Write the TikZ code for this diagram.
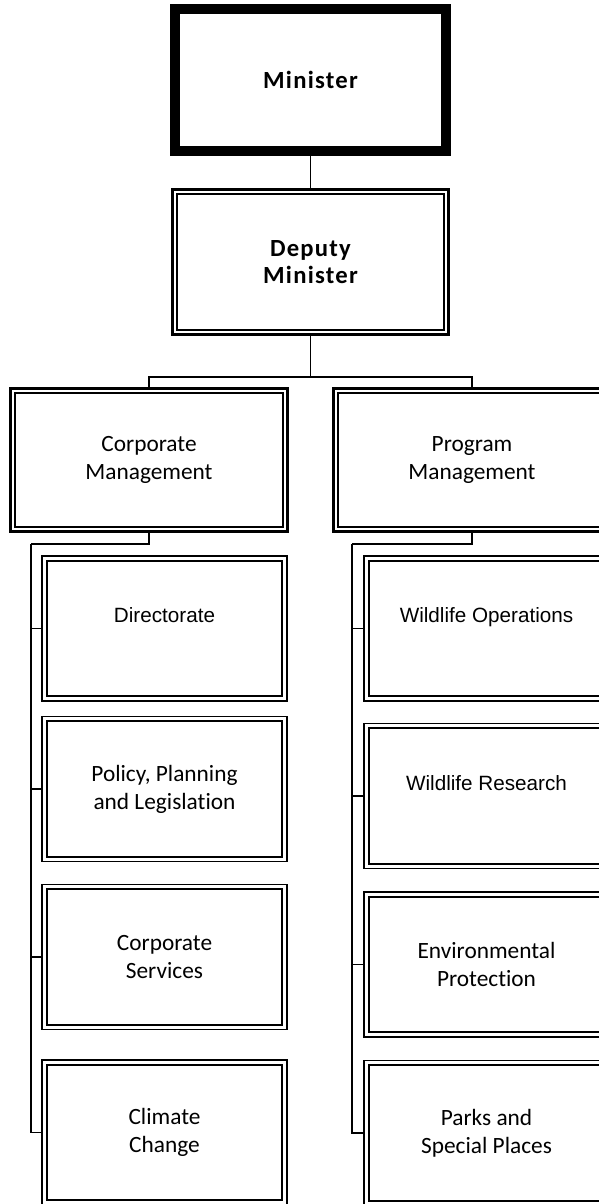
\documentclass[tikz,border=0pt]{standalone}
\usepackage{fontspec}
\setmainfont[Ligatures=NoCommon]{Carlito}
\newfontfamily\calbold[Ligatures=NoCommon,LetterSpace=5]{Carlito}
\newfontfamily\arialf[Ligatures=NoCommon]{Liberation Sans}
\tikzset{
  box/.style 2 args={rectangle, draw=black, minimum width=#1*0.75pt, minimum height=#2*0.75pt, inner sep=0pt, align=center},
  calib/.style={font=\fontsize{17.5}{21}\selectfont},
  calibb/.style={font=\calbold\fontsize{18.5}{20.5}\selectfont\bfseries},
  arial/.style={font=\arialf\fontsize{15.5}{20}\selectfont},
  topbox/.style={box={271}{142}, line width=7.5pt, calibb},
  midbox/.style={box={275.5}{144.5}, line width=2.6pt},
  divbox/.style={box={276.5}{142.5}, line width=2.6pt, calib},
  subbox/.style={box={245}{145}, line width=1.1pt},
  conn/.style={draw=black, line width=1.1pt}
}
\newcommand\innerbox[3]{\draw[line width=#3] ([shift={(#2,#2)}]#1.north west) rectangle ([shift={(-#2,-#2)}]#1.south east);}
\begin{document}
\begin{tikzpicture}[x=0.75pt,y=-0.75pt]
\useasboundingbox (0,0) rectangle (599,1204);
\clip (0,0) rectangle (599,1204);
% nodes
\node[topbox] (min) at (310.5,80) {Minister};
\node[midbox, calibb] (dep) at (310.5,262) {Deputy\\Minister};
\node[divbox] (corp) at (149,460) {Corporate\\Management};
\node[divbox] (prog) at (472,460) {Program\\Management};
% left column
\node[subbox, arial] (dir) at (164.5,628.5) {Directorate\\\phantom{D}};
\node[subbox, calib] (pol) at (164.5,789) {Policy, Planning\\and Legislation};
\node[subbox, calib] (cs) at (164.5,957) {Corporate\\Services};
\node[subbox, calib] (cc) at (164.5,1132.5) {Climate\\Change};
% right column
\node[subbox, arial] (wo) at (486.5,628.5) {Wildlife Operations\\\phantom{W}};
\node[subbox, arial] (wr) at (486.5,796) {Wildlife Research\\\phantom{W}};
\node[subbox, calib] (ep) at (486.5,964.5) {Environmental\\Protection};
\node[subbox, calib] (pk) at (486.5,1133) {Parks and\\Special Places};
% inner lines
\innerbox{dep}{6}{1.5pt}
\innerbox{corp}{6}{1.5pt}
\innerbox{prog}{6}{1.5pt}
\foreach \n in {dir,pol,cs,cc,wo,wr,ep,pk}{\innerbox{\n}{5.5}{1.5pt}}
% junctions
\coordinate (j0) at (310.5,377);
\coordinate (jl) at (31,544);
\coordinate (jr) at (352,544);
% connectors
\draw[conn] (min.south) -- (dep.north);
\draw[conn] (dep.south) -- (j0);
\draw[conn] (j0) -| (corp.north);
\draw[conn] (j0) -| (prog.north);
\draw[conn] (corp.south) |- (jl);
\draw[conn] (prog.south) |- (jr);
\foreach \n in {dir,pol,cs,cc}{\draw[conn] (jl) |- (\n.west);}
\foreach \n in {wo,wr,ep,pk}{\draw[conn] (jr) |- (\n.west);}
\end{tikzpicture}
\end{document}
